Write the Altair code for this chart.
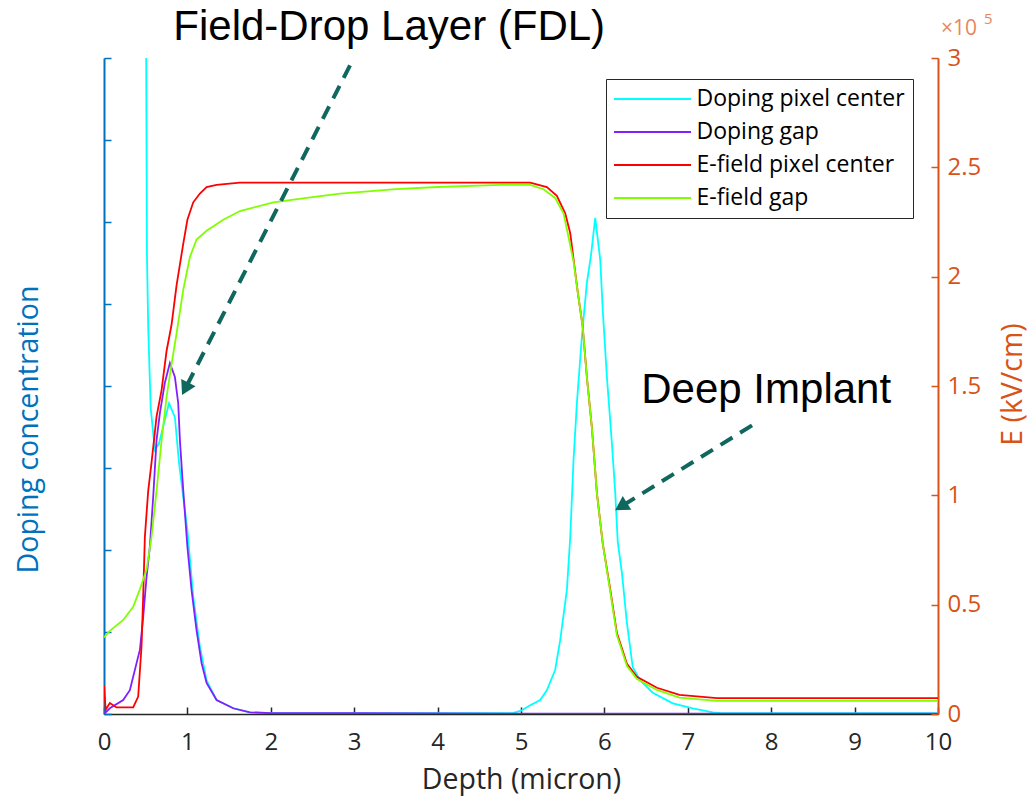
import altair as alt
import pandas as pd

# ---------------- data ----------------
series_names = ["Doping pixel center", "Doping gap", "E-field pixel center", "E-field gap"]
series_colors = ["#00FFFF", "#8020FF", "#FF0000", "#80FF00"]

# Doping (arbitrary units, left axis 0..8)
depth_doping_center = [0, 0.2, 0.4, 0.48, 0.505, 0.515, 0.53, 0.56, 0.61, 0.66, 0.72, 0.78, 0.85, 0.90,
                       1.0, 1.07, 1.15, 1.23, 1.35, 1.55, 1.75, 2.0, 3.0, 4.0, 4.9, 5.0, 5.1, 5.23,
                       5.31, 5.41, 5.47, 5.55, 5.59, 5.63, 5.67, 5.73, 5.79, 5.84, 5.89, 5.95, 5.98,
                       6.03, 6.09, 6.13, 6.16, 6.21, 6.27, 6.34, 6.43, 6.58, 6.82, 7.06, 7.3, 7.4, 8.0, 9.0, 10.0]
doping_center = [60, 40, 20, 12, 8.2, 5.6, 4.72, 3.73, 3.22, 3.3, 3.55, 3.79, 3.62, 3.06,
                 2.24, 1.43, 0.82, 0.41, 0.17, 0.07, 0.02, 0.01, 0.01, 0.01, 0.01, 0.04, 0.1, 0.17,
                 0.29, 0.54, 0.9, 1.51, 2.15, 3.1, 3.79, 4.6, 5.26, 5.6, 6.05, 5.54, 4.93,
                 4.11, 3.3, 2.7, 2.1, 1.72, 1.11, 0.57, 0.41, 0.26, 0.13, 0.07, 0.02, 0.01, 0.01, 0.01, 0.01]

depth_doping_gap = [0, 0.07, 0.23, 0.31, 0.40, 0.43, 0.47, 0.51, 0.55, 0.59, 0.63, 0.67, 0.73, 0.79,
                    0.85, 0.89, 0.91, 0.95, 1.0, 1.05, 1.11, 1.17, 1.23, 1.35, 1.55, 1.75, 2.0, 3.0,
                    5.0, 7.0, 10.0]
doping_gap = [0, 0.07, 0.17, 0.29, 0.66, 0.78, 1.18, 1.67, 2.04, 2.65, 3.34, 3.67, 4.04, 4.28,
              4.11, 3.79, 3.34, 2.73, 2.04, 1.51, 1.02, 0.62, 0.38, 0.17, 0.07, 0.02, 0.01, 0.01,
              0.005, 0.005, 0.005]

# Electric field (x10^5, right axis 0..3)
depth_efield_center = [0, 0.02, 0.07, 0.15, 0.35, 0.41, 0.45, 0.47, 0.49, 0.53, 0.57, 0.63, 0.69, 0.75,
                       0.81, 0.87, 0.95, 1.0, 1.07, 1.15, 1.23, 1.35, 1.63, 2.0, 3.0, 4.0, 5.0, 5.11,
                       5.31, 5.43, 5.53, 5.59, 5.63, 5.68, 5.74, 5.79, 5.85, 5.91, 5.98, 6.07, 6.15,
                       6.27, 6.39, 6.63, 6.9, 7.35, 8.0, 9.0, 10.0]
efield_center = [0.13, 0.02, 0.05, 0.03, 0.03, 0.08, 0.31, 0.54, 0.81, 1.02, 1.15, 1.36, 1.48, 1.66,
                 1.78, 1.96, 2.15, 2.26, 2.34, 2.38, 2.41, 2.42, 2.43, 2.43, 2.43, 2.43, 2.43, 2.43,
                 2.41, 2.37, 2.29, 2.20, 2.08, 1.93, 1.77, 1.54, 1.31, 1.01, 0.78, 0.57, 0.37,
                 0.23, 0.17, 0.12, 0.087, 0.073, 0.073, 0.073, 0.073]

depth_efield_gap = [0, 0.07, 0.23, 0.35, 0.43, 0.51, 0.57, 0.63, 0.69, 0.75, 0.81, 0.87, 0.95, 1.03,
                    1.11, 1.23, 1.43, 1.63, 2.03, 2.43, 2.83, 3.5, 4.0, 4.75, 5.11, 5.27, 5.41, 5.51,
                    5.57, 5.63, 5.68, 5.74, 5.79, 5.85, 5.91, 5.98, 6.07, 6.15, 6.27, 6.39, 6.63,
                    6.9, 7.35, 8.0, 9.0, 10.0]
efield_gap = [0.35, 0.38, 0.43, 0.49, 0.57, 0.66, 0.81, 1.02, 1.25, 1.45, 1.6, 1.74, 1.94, 2.09,
              2.17, 2.21, 2.26, 2.30, 2.34, 2.36, 2.38, 2.40, 2.41, 2.42, 2.42, 2.40, 2.36, 2.29,
              2.18, 2.07, 1.93, 1.77, 1.54, 1.31, 1.01, 0.78, 0.56, 0.36, 0.22, 0.16, 0.11,
              0.075, 0.06, 0.06, 0.06, 0.06]

x_ticks = [0, 1, 2, 3, 4, 5, 6, 7, 8, 9, 10]
left_ticks = [0, 1, 2, 3, 4, 5, 6, 7, 8]
right_ticks = [0, 0.5, 1, 1.5, 2, 2.5, 3]

# annotations (in depth / left-axis units)
note_text = ["Field-Drop Layer (FDL)", "Deep Implant"]
note_x = [3.42, 7.94]
note_y = [8.22, 3.79]
arrow_x = [2.95, 7.77]
arrow_y = [7.91, 3.52]
arrow_x2 = [0.974, 6.20]
arrow_y2 = [3.966, 2.53]
arrow_angle = [207, 238]

# ---------------- styling ----------------
FONT = "Open Sans"
BLUE = "#0072BD"
ORANGE = "#D95319"
GRAY = "#262626"
TEAL = "#10675e"

XS = alt.Scale(domain=[x_ticks[0], x_ticks[-1]], nice=False, zero=False)
YL = alt.Scale(domain=[left_ticks[0], left_ticks[-1]], nice=False)
YR = alt.Scale(domain=[right_ticks[0], right_ticks[-1]], nice=False)

legend = alt.Legend(
    title=None, orient="none", legendX=502, legendY=21, direction="vertical",
    symbolType="M-3.5,0H3.5", symbolSize=484, symbolStrokeWidth=1.8,
    symbolOffset=26.5, labelOffset=32, labelFont=FONT, labelFontSize=23, labelLimit=400,
    labelColor="#000000", padding=8, rowPadding=9,
    strokeColor=GRAY, fillColor="white", cornerRadius=0,
)
color = alt.Color("series:N", scale=alt.Scale(domain=series_names, range=series_colors), legend=legend)


def frame(xs, ys, name):
    return pd.DataFrame({"depth": xs, "value": ys, "series": name, "idx": list(range(len(xs)))})


x_main_axis = alt.Axis(
    orient="bottom", values=x_ticks, ticks=False, grid=False, domainColor=GRAY, domainWidth=1.5,
    labelFont=FONT, labelFontSize=24, labelColor=GRAY, labelPadding=16, labelFlush=False, format="d",
    title="Depth (micron)", titleFont=FONT, titleFontSize=28.5, titleFontWeight="normal",
    titleColor=GRAY, titleY=51, titleBaseline="top",
)
y_left_axis = alt.Axis(
    orient="left", values=left_ticks, ticks=False, labels=False, grid=False,
    domainColor=BLUE, domainWidth=2, title="Doping concentration", titleFont=FONT,
    titleFontSize=28.5, titleFontWeight="normal", titleColor=BLUE, titleAngle=270,
    titleX=-61, titleY=371, titleBaseline="bottom", titleAlign="center",
)
y_right_axis = alt.Axis(
    orient="right", values=right_ticks, ticks=False, grid=False, domainColor=ORANGE, domainWidth=2,
    labelFont=FONT, labelFontSize=24, labelColor=ORANGE, labelPadding=9, format="~g",
    title="E (kV/cm)", titleFont=FONT, titleFontSize=28.5, titleFontWeight="normal",
    titleColor=ORANGE, titleAngle=270, titleX=89, titleY=326, titleBaseline="bottom",
    titleAlign="center",
)


def line_layer(df, yscale, yaxis, xaxis=None):
    enc = dict(
        x=alt.X("depth:Q", scale=XS, axis=xaxis) if xaxis is not None else alt.X("depth:Q", scale=XS, axis=None),
        y=alt.Y("value:Q", scale=yscale, axis=yaxis) if yaxis is not None else alt.Y("value:Q", scale=yscale, axis=None),
        color=color,
        order=alt.Order("idx:Q"),
    )
    return alt.Chart(df).mark_line(clip=True, strokeWidth=1.8).encode(**enc)


l_cyan = line_layer(frame(depth_doping_center, doping_center, series_names[0]), YL, y_left_axis, x_main_axis)
l_purple = line_layer(frame(depth_doping_gap, doping_gap, series_names[1]), YL, None)
l_red = line_layer(frame(depth_efield_center, efield_center, series_names[2]), YR, y_right_axis)
l_green = line_layer(frame(depth_efield_gap, efield_gap, series_names[3]), YR, None)

# inward-pointing ticks: extra axes shifted inside the plot
tick_df = pd.DataFrame({"t": x_ticks})
ticks_xl = alt.Chart(tick_df).mark_point(opacity=0).encode(
    x=alt.X("t:Q", scale=XS, axis=alt.Axis(orient="bottom", offset=-7, values=x_ticks, tickSize=7,
                                           tickColor=GRAY, tickWidth=1.5, domain=False, labels=False,
                                           grid=False, title=None)),
    y=alt.Y("t:Q", scale=YL, axis=alt.Axis(orient="left", offset=-7, values=left_ticks, tickSize=7,
                                           tickColor=BLUE, tickWidth=1.5, domain=False, labels=False,
                                           grid=False, title=None)),
)
ticks_r = alt.Chart(pd.DataFrame({"t": right_ticks})).mark_point(opacity=0).encode(
    x=alt.X("t:Q", scale=XS, axis=None),
    y=alt.Y("t:Q", scale=YR, axis=alt.Axis(orient="right", offset=-7, values=right_ticks, tickSize=7,
                                           tickColor=ORANGE, tickWidth=1.5, domain=False, labels=False,
                                           grid=False, title=None)),
)

# annotations
notes = pd.DataFrame({"text": note_text, "x": note_x, "y": note_y})
arrows = pd.DataFrame({"x": arrow_x, "y": arrow_y, "x2": arrow_x2, "y2": arrow_y2, "angle": arrow_angle})

note_layer = alt.Chart(notes).mark_text(font="Liberation Sans", fontSize=42, color="#000000",
                                        align="center", baseline="alphabetic").encode(
    x=alt.X("x:Q", scale=XS, axis=None), y=alt.Y("y:Q", scale=YL, axis=None), text="text:N")
arrow_layer = alt.Chart(arrows).mark_rule(color=TEAL, strokeWidth=4, strokeDash=[14, 9]).encode(
    x=alt.X("x:Q", scale=XS, axis=None), y=alt.Y("y:Q", scale=YL, axis=None), x2="x2:Q", y2="y2:Q")
head_layer = alt.Chart(arrows).mark_point(shape="triangle-up", filled=True, size=260, color=TEAL,
                                          opacity=1).encode(
    x=alt.X("x2:Q", scale=XS, axis=None), y=alt.Y("y2:Q", scale=YL, axis=None),
    angle=alt.Angle("angle:Q", scale=None))

# x10^5 multiplier at the top of the right axis
mult = pd.DataFrame({"x": [x_ticks[-1]], "y": [right_ticks[-1]]})
mult_base = alt.Chart(mult).mark_text(font=FONT, fontSize=21, color="#E8875A", align="left",
                                      baseline="alphabetic", dx=3, dy=-23, text="\u00d710").encode(
    x=alt.X("x:Q", scale=XS, axis=None), y=alt.Y("y:Q", scale=YR, axis=None))
mult_exp = alt.Chart(mult).mark_text(font=FONT, fontSize=15, color="#E8875A", align="left",
                                     baseline="alphabetic", dx=46, dy=-34, text="5").encode(
    x=alt.X("x:Q", scale=XS, axis=None), y=alt.Y("y:Q", scale=YR, axis=None))

chart = alt.layer(
    l_cyan, l_purple, l_red, l_green, ticks_xl, ticks_r,
    arrow_layer, head_layer, note_layer, mult_base, mult_exp,
).resolve_scale(y="independent").resolve_axis(x="independent", y="independent").properties(
    width=834, height=656,
    padding={"left": 104, "top": 58, "right": 97, "bottom": 87},
    autosize=alt.AutoSizeParams(type="none"),
    background="white",
).configure_view(stroke=None)

chart.save("out.html", embed_options={"renderer": "svg", "actions": False})
